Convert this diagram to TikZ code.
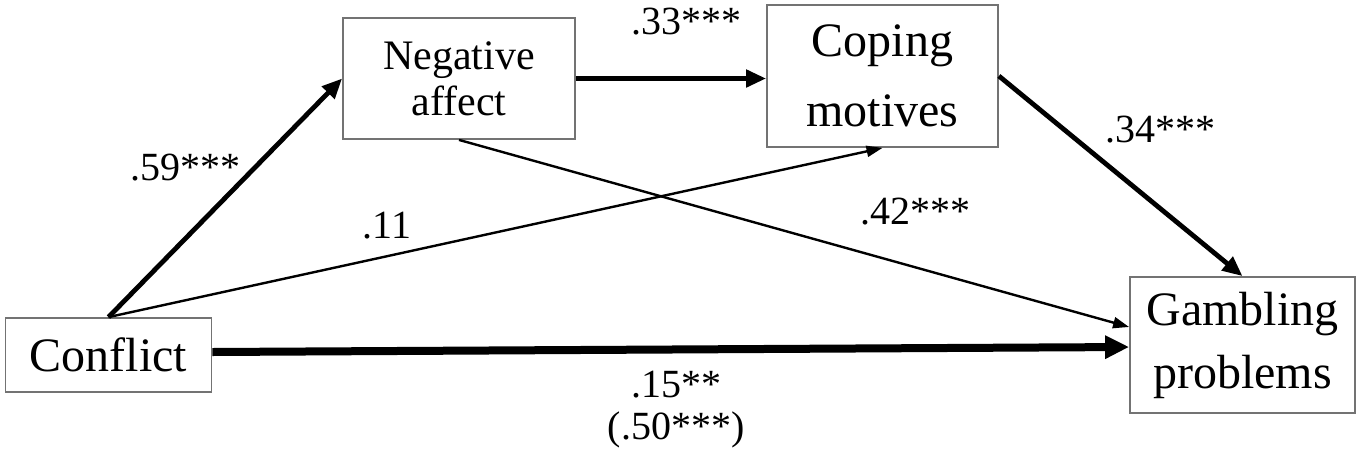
\documentclass[tikz,border=0pt]{standalone}
\usepackage{fontspec}
\setmainfont{Liberation Serif}
\usetikzlibrary{arrows.meta}
\begin{document}
\begin{tikzpicture}[x=1pt,y=-1pt,
  box/.style={draw=black!55,line width=1.8pt,rectangle,inner sep=0pt,align=center,fill=white},
  big/.style={font=\fontsize{48}{66}\selectfont},
  lab/.style={font=\fontsize{40}{46}\selectfont,inner sep=0pt},
  thin/.style={line width=2.4pt,-{Triangle[length=16pt,width=11pt]}},
  thick/.style={line width=4.8pt,-{Triangle[length=20pt,width=17pt]}},
  heavy/.style={line width=8pt,-{Triangle[length=24pt,width=22pt]}}]
\useasboundingbox (0,0) rectangle (1361,459);
\node[box,big,minimum width=206pt,minimum height=74pt] (con) at (108.5,355) {Conflict};
\node[box,minimum width=232pt,minimum height=121pt,font=\fontsize{42}{46}\selectfont] (neg) at (459,78.5) {Negative\\affect};
\node[box,big,minimum width=231pt,minimum height=142pt,font=\fontsize{48}{70}\selectfont] (cop) at (882.5,76) {Coping\\motives};
\node[box,big,minimum width=225pt,minimum height=136pt,font=\fontsize{48}{63}\selectfont] (gam) at (1242.5,345) {Gambling\\problems};
\draw[thick] (con.north) -- (neg.west);
\draw[thin] (con.north) -- (cop.south);
\draw[thin] (neg.south) -- ([yshift=18pt]gam.west);
\draw[thick] (neg.east) -- (neg.east -| cop.west);
\draw[thick] (cop.east) -- (gam.north);
\draw[heavy] ([yshift=3pt]con.east) -- ([yshift=-2pt]gam.west);
\node[lab] (l59) at (185,168) {.59***};
\node[lab] (l11) at (387,226) {.11};
\node[lab] (l33) at (686,22) {.33***};
\node[lab] (l34) at (1160,130) {.34***};
\node[lab] (l42) at (915,212) {.42***};
\node[lab] (l15) at (676,385) {.15**};
\node[lab] (l50) at (676,430) {(.50***)};
\end{tikzpicture}
\end{document}
